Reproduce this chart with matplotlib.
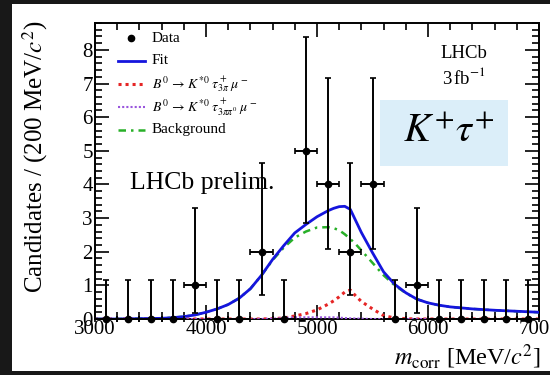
import numpy as np
import matplotlib
matplotlib.use("Agg")
import matplotlib.pyplot as plt
from matplotlib.lines import Line2D
from matplotlib.patches import Rectangle
from matplotlib.ticker import MultipleLocator

plt.rcParams['font.family'] = 'serif'
plt.rcParams['font.serif'] = ['Liberation Serif', 'DejaVu Serif']
plt.rcParams['mathtext.fontset'] = 'stix'

# binned data (200 MeV bins) with Poisson intervals
bin_centers = [3100, 3300, 3500, 3700, 3900, 4100, 4300, 4500, 4700, 4900,
               5100, 5300, 5500, 5700, 5900, 6100, 6300, 6500, 6700, 6900]
counts = [0, 0, 0, 0, 1, 0, 0, 2, 0, 5, 4, 2, 4, 0, 1, 0, 0, 0, 0, 0]
err_lo = [0, 0, 0, 0, 0.83, 0, 0, 1.29, 0, 2.16,
          1.91, 1.29, 1.91, 0, 0.83, 0, 0, 0, 0, 0]
err_hi = [1.15, 1.15, 1.15, 1.15, 2.30, 1.15, 1.15, 2.64, 1.15, 3.38,
          3.16, 2.64, 3.16, 1.15, 2.30, 1.15, 1.15, 1.15, 1.15, 1.15]

# fit components (finer sampling around the peak)
m_curve = [3000, 3200, 3400, 3600, 3700, 3800, 3900, 4000, 4100, 4200,
           4300, 4400, 4500, 4600, 4700, 4800, 4900, 5000, 5100, 5150,
           5200, 5250, 5300, 5350, 5400, 5500, 5600, 5700, 5800, 5900,
           6000, 6100, 6200, 6400, 6600, 6800, 7000]
bkg = [0.0, 0.0, 0.01, 0.02, 0.04, 0.07, 0.12, 0.2, 0.3, 0.43,
       0.62, 0.9, 1.3, 1.75, 2.12, 2.42, 2.6, 2.72, 2.73, 2.7,
       2.64, 2.52, 2.38, 2.22, 2.04, 1.67, 1.3, 1.0, 0.77, 0.59,
       0.48, 0.41, 0.36, 0.3, 0.26, 0.23, 0.2]
sig_3pi = [0, 0, 0, 0, 0, 0, 0, 0, 0, 0,
           0, 0, 0, 0.01, 0.03, 0.09, 0.16, 0.27, 0.44, 0.54,
           0.66, 0.8, 0.86, 0.68, 0.52, 0.3, 0.1, 0.03, 0.01, 0,
           0, 0, 0, 0, 0, 0, 0]
sig_3pipi0 = [0, 0, 0, 0, 0, 0, 0, 0, 0, 0,
              0, 0, 0, 0.01, 0.03, 0.05, 0.05, 0.05, 0.05, 0.05,
              0.04, 0.03, 0.02, 0.015, 0.01, 0, 0, 0, 0, 0,
              0, 0, 0, 0, 0, 0, 0]
fit_total = np.array(bkg) + np.array(sig_3pi) + np.array(sig_3pipi0)

blue = '#1515dd'
red = '#e52525'
purple = '#9955dd'
green = '#28b028'
red_ls = (0, (1, 1.3))
purple_ls = (0, (1, 1))
green_ls = (0, (3, 2, 1, 2))

W, H = 550, 375
fig = plt.figure(figsize=(5.5, 3.75), dpi=100, facecolor='#181818')
# white slide area behind the plot
fig.patches.append(Rectangle((12 / W, 1 - 371 / H), 1 - 12 / W, (371 - 4) / H,
                             transform=fig.transFigure, facecolor='white',
                             edgecolor='none', zorder=-10))

ax = fig.add_axes([95 / W, 1 - 319 / H, 444 / W, 296 / H])
ax.set_facecolor('white')

ax.plot(m_curve, sig_3pi, color=red, ls=red_ls, lw=2.2, zorder=3)
ax.plot(m_curve, sig_3pipi0, color=purple, ls=purple_ls, lw=1.5, zorder=3)
ax.plot(m_curve, bkg, color=green, ls=green_ls, lw=1.8, zorder=3)
ax.plot(m_curve, fit_total, color=blue, lw=2.0, zorder=4)

ax.errorbar(bin_centers, counts, yerr=[err_lo, err_hi], xerr=100,
            fmt='o', color='black', ms=4.5, elinewidth=1.4, capsize=2,
            capthick=1.2, zorder=5, clip_on=False)

ax.set_xlim(3000, 7000)
ax.set_ylim(0, 8.8)
ax.xaxis.set_major_locator(MultipleLocator(1000))
ax.xaxis.set_minor_locator(MultipleLocator(200))
ax.yaxis.set_major_locator(MultipleLocator(1))
ax.yaxis.set_minor_locator(MultipleLocator(0.2))
ax.tick_params(which='both', direction='in', top=True, right=True,
               width=1.2, labelsize=15)
ax.tick_params(which='major', length=10)
ax.tick_params(which='minor', length=5)
ax.tick_params(axis='x', pad=1)
ax.tick_params(axis='y', pad=1.5)
for s in ax.spines.values():
    s.set_linewidth(1.4)

fig.text(35 / W, 1 - 157 / H, 'Candidates / (200 MeV/$c^2$)', rotation=90,
         ha='center', va='center', fontsize=18)
fig.text(541 / W, 1 - 365 / H, r'$m_{\rm corr}$ [MeV/$c^2$]', ha='right',
         va='baseline', fontsize=17.5)

# legend, one row every 23 px
legend_rows = [
    ('Data', dict(marker='o', color='black', ls='none', ms=4.5)),
    ('Fit', dict(color=blue, lw=2.0)),
    (r'$B^0\,\rightarrow\,K^{*0}\;\tau^+_{3\pi}\;\mu^-$',
     dict(color=red, ls=red_ls, lw=2.2)),
    (r'$B^0\,\rightarrow\,K^{*0}\;\tau^+_{3\pi\pi^0}\;\mu^-$',
     dict(color=purple, ls=purple_ls, lw=1.5)),
    ('Background', dict(color=green, ls=green_ls, lw=1.8)),
]
for i, (label, style) in enumerate(legend_rows):
    yy = 1 - (38 + 23 * i) / H
    if style.get('marker'):
        xs = [131 / W]
    else:
        xs = [118 / W, 145 / W]
    fig.add_artist(Line2D(xs, [yy] * len(xs), transform=fig.transFigure,
                          **style))
    fs = 11 if label[0] != '$' else 10
    fig.text(152 / W, yy, label, ha='left', va='center', fontsize=fs)

fig.text(130 / W, 1 - 183 / H, 'LHCb prelim.', ha='left', va='center',
         fontsize=18.5)
fig.text(464 / W, 1 - 53 / H, 'LHCb', ha='center', va='center',
         fontsize=13.5)
fig.text(464 / W, 1 - 77 / H, r'3$\,$fb$^{-1}$', ha='center', va='center',
         fontsize=13.5)

fig.patches.append(Rectangle((380 / W, 1 - 166 / H), 128 / W, 66 / H,
                             transform=fig.transFigure, facecolor='#dbeef9',
                             edgecolor='none', zorder=6))
fig.text(449 / W, 1 - 132 / H, r'$K^{+}\tau^{+}$', ha='center', va='center',
         fontsize=29, zorder=7)

fig.savefig('out.png', dpi=100, facecolor=fig.get_facecolor())
